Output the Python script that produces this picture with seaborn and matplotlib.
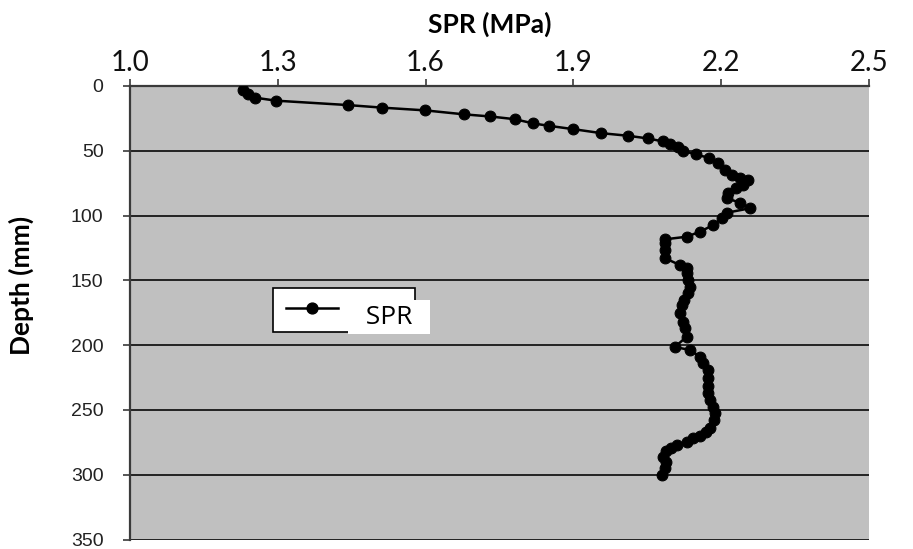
import matplotlib
matplotlib.use("Agg")
import matplotlib.pyplot as plt
import seaborn as sns
import pandas as pd
from matplotlib.lines import Line2D

# ---- data ----
depth_mm = [3.1, 6.4, 9.0, 11.3, 14.7, 16.7, 18.8, 21.9, 23.5, 25.6, 28.9, 30.7,
            33.3, 36.4, 38.4, 40.5, 42.8, 44.9, 47.4, 50.0, 52.8, 55.5, 59.6,
            64.8, 68.7, 71.2, 72.5, 76.4, 78.9, 82.8, 86.6, 90.0, 94.4, 97.8,
            102.1, 107.3, 112.4, 116.3, 118.3, 121.4, 126.5, 132.9, 138.1,
            140.7, 144.5, 149.7, 154.9, 159.7, 165.1, 169.0, 175.4, 181.9,
            186.7, 193.4, 201.4, 203.7, 208.9, 214.0, 219.1, 225.3, 231.5,
            237.1, 242.3, 247.5, 252.3, 257.7, 263.9, 267.0, 270.1, 271.8,
            274.5, 277.0, 279.5, 281.6, 286.0, 289.9, 295.0, 300.2]
spr_mpa = [1.230, 1.240, 1.254, 1.296, 1.442, 1.512, 1.599, 1.679, 1.731, 1.781,
           1.819, 1.850, 1.900, 1.957, 2.011, 2.052, 2.082, 2.096, 2.113, 2.123,
           2.148, 2.176, 2.194, 2.208, 2.221, 2.238, 2.255, 2.245, 2.231, 2.214,
           2.211, 2.238, 2.258, 2.211, 2.201, 2.184, 2.157, 2.130, 2.086, 2.086,
           2.086, 2.086, 2.116, 2.130, 2.130, 2.133, 2.137, 2.132, 2.124, 2.120,
           2.116, 2.123, 2.127, 2.130, 2.106, 2.137, 2.157, 2.164, 2.174, 2.174,
           2.174, 2.174, 2.177, 2.184, 2.187, 2.185, 2.177, 2.170, 2.157, 2.143,
           2.130, 2.110, 2.099, 2.089, 2.082, 2.089, 2.086, 2.079]
x_ticks = [1.0, 1.3, 1.6, 1.9, 2.2, 2.5]
y_ticks = [0, 50, 100, 150, 200, 250, 300, 350]
series_name = "SPR"

df = pd.DataFrame({"SPR (MPa)": spr_mpa, "Depth (mm)": depth_mm})

W, H = 913, 549
AX_L, AX_R, AX_T, AX_B = 129.9, 869.0, 86.0, 539.6
fig = plt.figure(figsize=(W / 100, H / 100), dpi=100)
fig.patch.set_facecolor("white")
ax = fig.add_axes([AX_L / W, (H - AX_B) / H, (AX_R - AX_L) / W, (AX_B - AX_T) / H])
ax.set_facecolor("#c0c0c0")

sns.lineplot(data=df, x="SPR (MPa)", y="Depth (mm)", sort=False, estimator=None,
             color="black", linewidth=1.8, marker="o", markersize=7.8,
             markeredgecolor="black", markerfacecolor="black", ax=ax,
             legend=False, zorder=3)

ax.set_xlim(1.0, 2.5)
ax.set_ylim(350, 0)
ax.set_xticks(x_ticks)
ax.set_xticklabels([f"{v:.1f}" for v in x_ticks])
ax.set_yticks(y_ticks)
ax.set_yticklabels([str(v) for v in y_ticks])

ax.xaxis.tick_top()
ax.xaxis.set_label_position("top")

# grid
ax.yaxis.grid(True, color="#222222", linewidth=1.4)
ax.xaxis.grid(False)
ax.set_axisbelow(True)

for s in ["right", "bottom"]:
    ax.spines[s].set_visible(False)
ax.spines["left"].set_color("#3a3a3a")
ax.spines["left"].set_linewidth(1.6)
ax.spines["top"].set_color("#3a3a3a")
ax.spines["top"].set_linewidth(1.6)

ax.tick_params(axis="x", which="both", top=True, bottom=False, length=5, width=1.2,
               color="#3a3a3a", pad=2.5, labelsize=20, labelcolor="#111111")
for lab in ax.get_xticklabels():
    lab.set_fontfamily(["Lato", "DejaVu Sans"])
ax.tick_params(axis="y", length=5, width=1.2, color="#3a3a3a", pad=14,
               labelsize=14, labelcolor="#222222")
for lab in ax.get_yticklabels():
    lab.set_fontfamily(["Liberation Sans", "DejaVu Sans"])

ax.set_xlabel("SPR (MPa)", fontsize=19, fontweight="bold",
              fontfamily=["Lato", "DejaVu Sans"])
ax.xaxis.set_label_coords((490 - AX_L) / (AX_R - AX_L), (AX_B - 33) / (AX_B - AX_T))
ax.set_ylabel("Depth (mm)", fontsize=19, fontweight="bold",
              fontfamily=["Lato", "DejaVu Sans"])
ax.yaxis.set_label_coords((34 - AX_L) / (AX_R - AX_L), (AX_B - 285) / (AX_B - AX_T))

# legend (partially covered by a white label box as in the reference)
handle = Line2D([0], [0], color="black", linewidth=1.8, marker="o", markersize=7.8)
leg = ax.legend([handle], ["Fields"], loc="upper left",
                bbox_to_anchor=((273 - AX_L) / (AX_R - AX_L), (AX_B - 288) / (AX_B - AX_T)),
                frameon=True, fancybox=False, edgecolor="black", facecolor="white",
                framealpha=1, fontsize=15, handlelength=2.5, borderpad=0.6,
                handletextpad=0.45, borderaxespad=0)
leg.get_frame().set_linewidth(1.2)
for t in leg.get_texts():
    t.set_fontfamily(["Liberation Sans", "DejaVu Sans"])
leg.set_zorder(5)

fig.text(352 / W, 1 - 317 / H, "  " + series_name + "  ", fontsize=19,
         fontfamily=["Open Sans", "DejaVu Sans"], va="center", ha="left",
         bbox=dict(facecolor="white", edgecolor="none", pad=3.0), zorder=10)

fig.savefig("out.png", dpi=100)
